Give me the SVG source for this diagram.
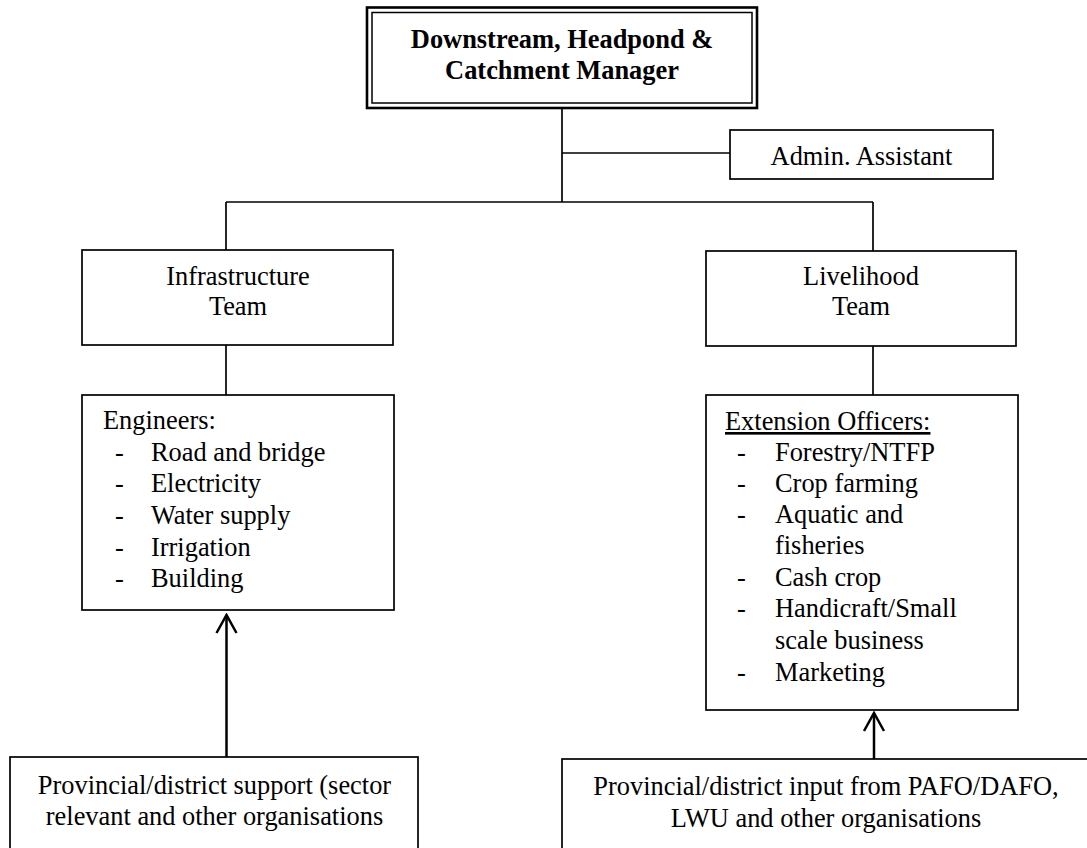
<svg xmlns="http://www.w3.org/2000/svg" width="1087" height="848" viewBox="0 0 1087 848">
  <style>
    .box { fill: #fff; stroke: #000; stroke-width: 1.7; }
    .line { fill: none; stroke: #000; stroke-width: 1.7; }
    .arrow { fill: none; stroke: #000; stroke-width: 2.5; }
    text { font-family: "Liberation Serif", "Times New Roman", serif; font-size: 26.4px; fill: #000; }
    .c { text-anchor: middle; }
    .b { font-weight: bold; }
    .u { text-decoration: underline; }
  </style>
  <defs>
    <!-- open chevron head; points along the path direction -->
    <marker id="open-head" viewBox="0 0 24 24" refX="22" refY="12" markerWidth="24" markerHeight="24" markerUnits="userSpaceOnUse" orient="auto">
      <path d="M4,2 L22,12 L4,22" fill="none" stroke="#000" stroke-width="2.5"/>
    </marker>
  </defs>

  <!-- connectors -->
  <g id="connectors">
    <path class="line" d="M562,108 V202"/>
    <path class="line" d="M562,153 H730"/>
    <path class="line" d="M226,202 H873"/>
    <path class="line" d="M226,202 V250"/>
    <path class="line" d="M873,202 V251"/>
    <path class="line" d="M226,345 V395"/>
    <path class="line" d="M873,346 V395"/>
    <path class="arrow" d="M226.5,757 V615" marker-end="url(#open-head)"/>
    <path class="arrow" d="M874,760 V713" marker-end="url(#open-head)"/>
  </g>

  <!-- manager -->
  <g id="manager">
    <rect x="367" y="7.5" width="390" height="100.5" fill="#fff" stroke="#000" stroke-width="2.6"/>
    <rect x="372" y="12.5" width="380" height="90.5" fill="none" stroke="#000" stroke-width="1.5"/>
    <text class="c b" x="562" y="48">Downstream, Headpond &amp;</text>
    <text class="c b" x="562" y="79">Catchment Manager</text>
  </g>

  <!-- admin assistant -->
  <g id="admin">
    <rect class="box" x="730" y="130" width="263" height="49"/>
    <text class="c" x="861.5" y="165">Admin. Assistant</text>
  </g>

  <!-- infrastructure team -->
  <g id="infrastructure">
    <rect class="box" x="82" y="250" width="311" height="95"/>
    <text class="c" x="238" y="285">Infrastructure</text>
    <text class="c" x="238" y="315">Team</text>
  </g>

  <!-- livelihood team -->
  <g id="livelihood">
    <rect class="box" x="706" y="251" width="310" height="95"/>
    <text class="c" x="861" y="285">Livelihood</text>
    <text class="c" x="861" y="315">Team</text>
  </g>

  <!-- engineers -->
  <g id="engineers">
    <rect class="box" x="82" y="395" width="312" height="215"/>
    <text x="103" y="429">Engineers:</text>
    <text x="115" y="460.7">-</text><text x="151" y="460.7">Road and bridge</text>
    <text x="115" y="492.3">-</text><text x="151" y="492.3">Electricity</text>
    <text x="115" y="524">-</text><text x="151" y="524">Water supply</text>
    <text x="115" y="555.7">-</text><text x="151" y="555.7">Irrigation</text>
    <text x="115" y="587.3">-</text><text x="151" y="587.3">Building</text>
  </g>

  <!-- extension officers -->
  <g id="extension">
    <rect class="box" x="706" y="395" width="312" height="315"/>
    <text class="u" x="725" y="430">Extension Officers:</text>
    <text x="737" y="460.5">-</text><text x="775" y="460.5">Forestry/NTFP</text>
    <text x="737" y="491.5">-</text><text x="775" y="491.5">Crop farming</text>
    <text x="737" y="522.5">-</text><text x="775" y="522.5">Aquatic and</text>
    <text x="775" y="554">fisheries</text>
    <text x="737" y="585.5">-</text><text x="775" y="585.5">Cash crop</text>
    <text x="737" y="617">-</text><text x="775" y="617">Handicraft/Small</text>
    <text x="775" y="648.5">scale business</text>
    <text x="737" y="681">-</text><text x="775" y="681">Marketing</text>
  </g>

  <!-- provincial support -->
  <g id="provincial-support">
    <rect class="box" x="10" y="757" width="408" height="110"/>
    <text class="c" x="214.5" y="794">Provincial/district support (sector</text>
    <text class="c" x="214.5" y="825">relevant and other organisations</text>
  </g>

  <!-- provincial input -->
  <g id="provincial-input">
    <rect class="box" x="562" y="759" width="530" height="110"/>
    <text class="c" x="826" y="795">Provincial/district input from PAFO/DAFO,</text>
    <text class="c" x="826" y="827">LWU and other organisations</text>
  </g>
</svg>
